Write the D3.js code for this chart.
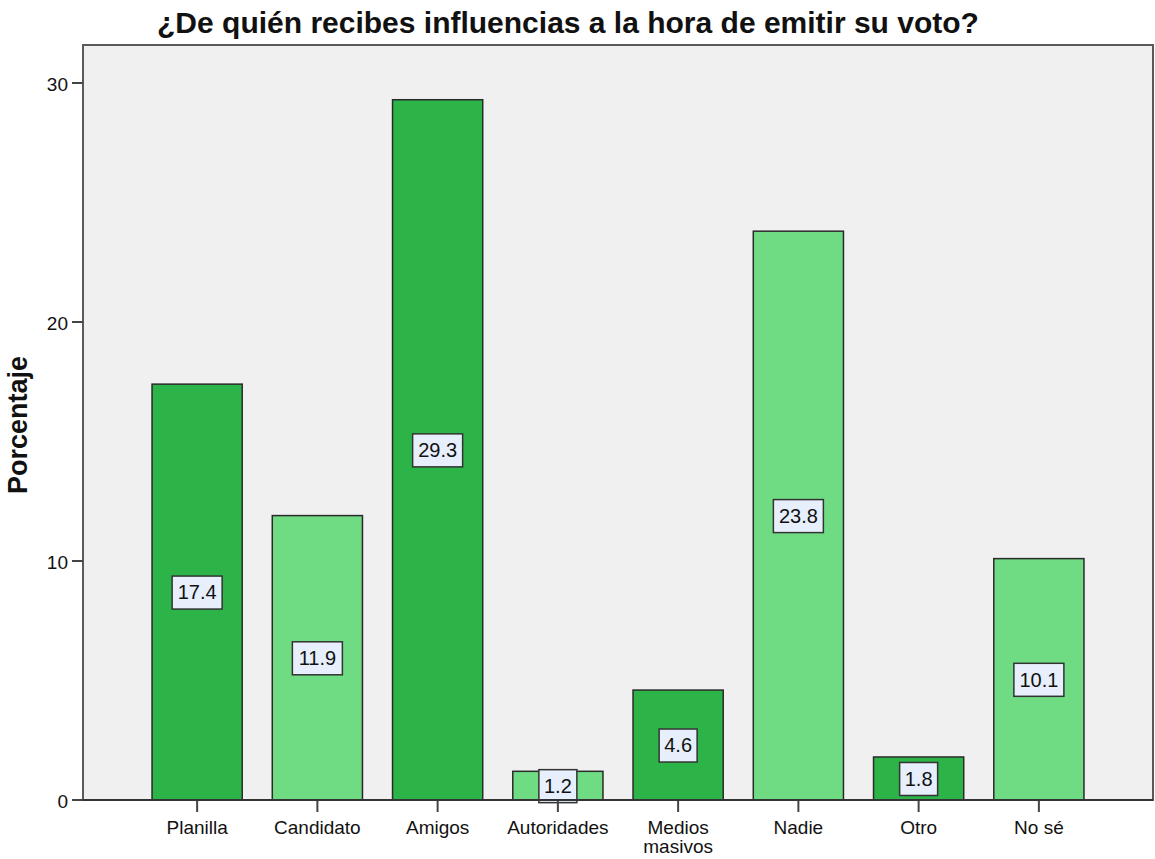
<!DOCTYPE html>
<html>
<head>
<meta charset="utf-8">
<script src="https://cdn.jsdelivr.net/npm/d3@7"></script>
<style>
body { margin: 0; background: #fff; }
text { font-family: "Liberation Sans", Arial, sans-serif; fill: #111; }
</style>
</head>
<body>
<div class="bar-chart"></div>
<script>
(function() {
var width = 1155, height = 859;

var svg = d3.select(".bar-chart").append("svg")
    .attr("width", width)
    .attr("height", height);

// data
const categories = ["Planilla", "Candidato", "Amigos", "Autoridades", "Medios masivos", "Nadie", "Otro", "No sé"];
const values = [17.4, 11.9, 29.3, 1.2, 4.6, 23.8, 1.8, 10.1];
const yTicks = [0, 10, 20, 30];

const data = categories.map((c, i) => ({ key: c, value: values[i] }));

const color = ["#2db449", "#6fdc83"];

var plot = {left: 83, right: 1153, top: 45, bottom: 800};

var x = d3.scaleBand()
    .domain(categories)
    .range([137, 1099])
    .paddingInner(0.25)
    .paddingOuter(0.125);

var y = d3.scaleLinear()
    .domain([0, 30])
    .range([plot.bottom, 83]);

// plot background + frame
svg.append("rect")
    .attr("x", plot.left)
    .attr("y", plot.top)
    .attr("width", plot.right - plot.left)
    .attr("height", plot.bottom - plot.top)
    .style("fill", "#f0f0f0")
    .style("stroke", "#5a5a5a")
    .style("stroke-width", 2);

// bars
svg.selectAll(".bar")
    .data(data)
    .enter().append("rect")
    .attr("class", "bar")
    .attr("x", (d) => x(d.key))
    .attr("y", (d) => y(d.value))
    .attr("width", x.bandwidth())
    .attr("height", (d) => y(0) - y(d.value))
    .style("fill", (d, i) => color[i % 2])
    .style("stroke", "#2a2a2a")
    .style("stroke-width", 1.5);

// value labels
var lab = svg.selectAll(".lab")
    .data(data)
    .enter().append("g")
    .attr("class", "lab")
    .attr("transform", (d) => "translate(" + (x(d.key) + x.bandwidth() / 2) + "," + y(d.value / 2) + ")");

lab.append("rect")
    .attr("x", (d) => d.value >= 10 ? -25 : -19)
    .attr("y", -16)
    .attr("width", (d) => d.value >= 10 ? 50 : 38)
    .attr("height", 33)
    .style("fill", "#e6effb")
    .style("stroke", "#333")
    .style("stroke-width", 1.5);

lab.append("text")
    .attr("text-anchor", "middle")
    .attr("dy", "0.36em")
    .style("font-size", "20px")
    .text((d) => d.value.toFixed(1));

// x axis
svg.append("line")
    .attr("x1", plot.left).attr("x2", plot.right)
    .attr("y1", plot.bottom).attr("y2", plot.bottom)
    .style("stroke", "#333").style("stroke-width", 2);

var xt = svg.selectAll(".xtick")
    .data(categories)
    .enter().append("g")
    .attr("class", "xtick")
    .attr("transform", (d) => "translate(" + (x(d) + x.bandwidth() / 2) + "," + plot.bottom + ")");

xt.append("line")
    .attr("y1", 1).attr("y2", 12)
    .style("stroke", "#444").style("stroke-width", 2);

xt.append("text")
    .attr("text-anchor", "middle")
    .style("font-size", "19px")
    .selectAll("tspan")
    .data((d) => d.split(" ").length > 1 && d.length > 10 ? d.split(" ") : [d])
    .enter().append("tspan")
    .attr("x", 0)
    .attr("y", (d, i) => 34 + i * 19)
    .text((d) => d);

// y axis
var yt = svg.selectAll(".ytick")
    .data(yTicks)
    .enter().append("g")
    .attr("class", "ytick")
    .attr("transform", (d) => "translate(" + plot.left + "," + y(d) + ")");

yt.append("line")
    .attr("x1", -11).attr("x2", 0)
    .style("stroke", "#444").style("stroke-width", 2);

yt.append("text")
    .attr("x", -15)
    .attr("dy", "0.4em")
    .attr("text-anchor", "end")
    .style("font-size", "19px")
    .text((d) => d);

// axis title
svg.append("text")
    .attr("transform", "translate(27,425) rotate(-90)")
    .attr("text-anchor", "middle")
    .style("font-size", "27px")
    .style("font-weight", "bold")
    .text("Porcentaje");

// title
svg.append("text")
    .attr("x", 568)
    .attr("y", 33)
    .attr("text-anchor", "middle")
    .style("font-size", "30px")
    .style("font-weight", "bold")
    .text("¿De quién recibes influencias a la hora de emitir su voto?");
}())
</script>
</body>
</html>
